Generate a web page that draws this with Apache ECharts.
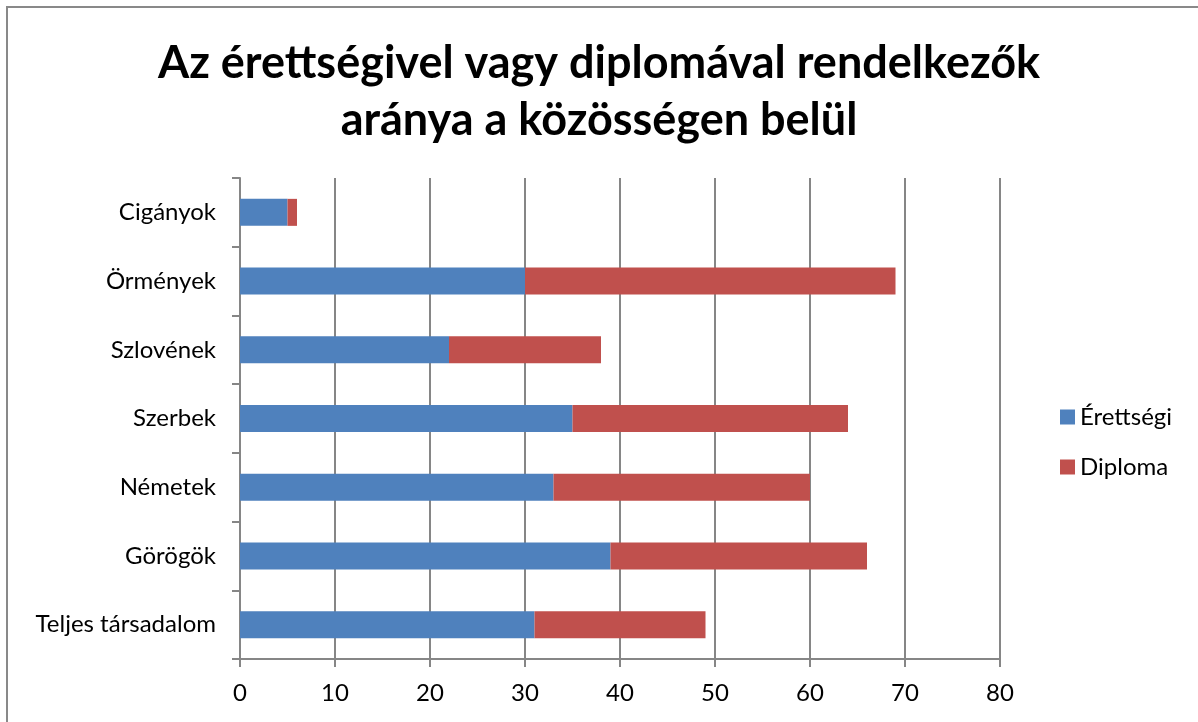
<!DOCTYPE html>
<html><head><meta charset="utf-8">
<script src="https://cdn.jsdelivr.net/npm/echarts@6/dist/echarts.min.js"></script>
<style>html,body{margin:0;padding:0;background:#fff}#c{width:1198px;height:722px}</style>
</head><body><div id="c"></div>
<script>
const categories = ['Teljes társadalom','Görögök','Németek','Szerbek','Szlovének','Örmények','Cigányok'];
const erettsegi = [31, 39, 33, 35, 22, 30, 5];
const diploma = [18, 27, 27, 29, 16, 39, 1];
const xTicks = [0,10,20,30,40,50,60,70,80];
const seriesNames = ['Érettségi','Diploma'];
const titleText = 'Az érettségivel vagy diplomával rendelkezők\naránya a közösségen belül';

const font = 'Lato, "Open Sans", sans-serif';
const chart = echarts.init(document.getElementById('c'));
chart.setOption({
  animation:false,
  backgroundColor:'#fff',
  graphic:[{type:'rect',shape:{x:7,y:7,width:1400,height:900},style:{fill:'none',stroke:'#898989',lineWidth:2},z:100}],
  title:{text:titleText,left:'center',top:30,textStyle:{fontFamily:font,fontWeight:'bold',fontSize:45,lineHeight:57,color:'#000'}},
  legend:{orient:'vertical',left:1055,top:400,itemWidth:15,itemHeight:15,itemGap:26,icon:'rect',
    textStyle:{fontFamily:font,fontSize:24,color:'#000'},data:seriesNames},
  grid:{left:240,right:198,top:178,bottom:63,containLabel:false},
  xAxis:{type:'value',min:0,max:80,interval:10,
    axisLine:{show:true,lineStyle:{color:'#868686',width:2}},
    axisTick:{show:true,length:8,lineStyle:{color:'#868686',width:2}},
    splitLine:{show:true,lineStyle:{color:'#868686',width:2}},
    axisLabel:{fontFamily:font,fontSize:24,color:'#000',margin:22,
      formatter:v=>xTicks.includes(v)?String(v):''}},
  yAxis:{type:'category',data:categories,
    axisLine:{show:true,lineStyle:{color:'#868686',width:2}},
    axisTick:{show:true,length:8,lineStyle:{color:'#868686',width:2}},
    axisLabel:{fontFamily:font,fontSize:24,color:'#000',margin:24}},
  series:[
    {name:seriesNames[0],type:'bar',stack:'s',data:erettsegi,barWidth:27,itemStyle:{color:'#4F81BD'}},
    {name:seriesNames[1],type:'bar',stack:'s',data:diploma,barWidth:27,itemStyle:{color:'#C0504D'}}
  ]
});
</script></body></html>
